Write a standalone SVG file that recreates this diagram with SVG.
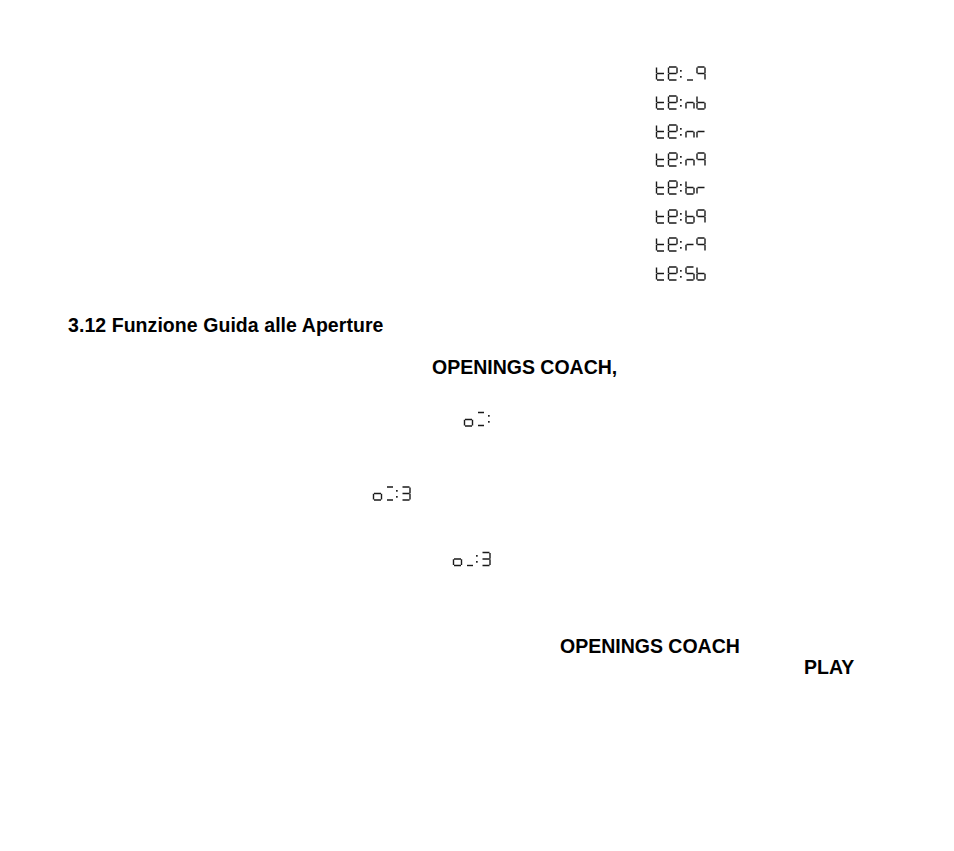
<svg xmlns="http://www.w3.org/2000/svg" width="954" height="851" viewBox="0 0 954 851">
<style>
text{font-family:"Liberation Sans",Arial,sans-serif;font-weight:700;font-size:19.5px;fill:#000}
.s{fill:none;stroke:#1a1a1a;stroke-width:1.4}
.c{fill:#222}
</style>
<defs>
<path id="t" class="s" d="M0 .5V6.200M0 6.800V12.500M.5 6.500H7.500M.5 13H7.500"/>
<path id="e" class="s" d="M.5 0H8M8.500 .5V6.200M0 .5V6.200M0 6.800V12.500M.5 6.500H8M.5 13H8"/>
<path id="n9" class="s" d="M.5 0H7.500M8 .5V6.200M8 6.800V12.500M0 .5V6.200M.5 6.500H7.500"/>
<path id="nn" class="s" d="M0 6.800V12.500M8 6.800V12.500M.5 6.500H7.500"/>
<path id="nb" class="s" d="M0 .5V6.200M0 6.800V12.500M.5 6.500H7.500M.5 13H7.500M8 6.800V12.500"/>
<path id="nr" class="s" d="M0 6.800V12.500M.5 6.500H7.500"/>
<path id="nS" class="s" d="M.5 0H7.500M0 .5V6.200M.5 6.500H7.500M8 6.800V12.500M.5 13H7.500"/>
<path id="nu" class="s" d="M1 13H7"/>
<path id="n3" class="s" d="M.5 0H7.500M8 .5V6.200M8 6.800V12.500M.5 6.500H7.500M.5 13H7.500"/>
<path id="no" class="s" d="M0 6.800V12.500M8 6.800V12.500M.5 6.500H7.500M.5 13H7.500"/>
<path id="nd" class="s" d="M1 0H7M1 13H7"/>
<g id="col"><rect class="c" x="0" y="3" width="1.700" height="1.700"/><rect class="c" x="0" y="9" width="1.700" height="1.700"/></g>
<g id="pre"><use href="#t" x="656.500" y="67"/><use href="#e" x="668.500" y="67"/><use href="#col" x="680" y="67"/></g>
</defs>
<g id="lcd-codes">
<g id="code-1"><use href="#pre"/><use href="#nu" x="686" y="67"/><use href="#n9" x="697" y="67"/></g>
<g id="code-2" transform="translate(0 29)"><use href="#pre"/><use href="#nn" x="686" y="67"/><use href="#nb" x="697" y="67"/></g>
<g id="code-3" transform="translate(0 58)"><use href="#pre"/><use href="#nn" x="686" y="67"/><use href="#nr" x="697" y="67"/></g>
<g id="code-4" transform="translate(0 86)"><use href="#pre"/><use href="#nn" x="686" y="67"/><use href="#n9" x="697" y="67"/></g>
<g id="code-5" transform="translate(0 114)"><use href="#pre"/><use href="#nb" x="686" y="67"/><use href="#nr" x="697" y="67"/></g>
<g id="code-6" transform="translate(0 143)"><use href="#pre"/><use href="#nb" x="686" y="67"/><use href="#n9" x="697" y="67"/></g>
<g id="code-7" transform="translate(0 171)"><use href="#pre"/><use href="#nr" x="686" y="67"/><use href="#n9" x="697" y="67"/></g>
<g id="code-8" transform="translate(0 200)"><use href="#pre"/><use href="#nS" x="686" y="67"/><use href="#nb" x="697" y="67"/></g>
</g>
<text id="heading" x="68" y="331.500" letter-spacing=".06">3.12 Funzione Guida alle Aperture</text>
<text id="coach-1" x="432" y="373.500">OPENINGS COACH,</text>
<g id="lcd-o1">
<use href="#no" x="464.500" y="413"/>
<use href="#nd" x="477" y="412.500"/>
<use href="#col" x="488" y="412"/>
</g>
<g id="lcd-o2">
<use href="#no" x="373.500" y="487"/>
<use href="#nd" x="386" y="487"/>
<use href="#col" x="396" y="487"/>
<use href="#n3" x="402" y="487"/>
</g>
<g id="lcd-o3">
<use href="#no" x="453.500" y="552.500"/>
<use href="#nu" x="466" y="552.500"/>
<use href="#col" x="476" y="552"/>
<use href="#n3" x="482" y="552.500"/>
</g>
<text id="coach-2" x="560" y="653">OPENINGS COACH</text>
<text id="play" x="804" y="674">PLAY</text>
</svg>
